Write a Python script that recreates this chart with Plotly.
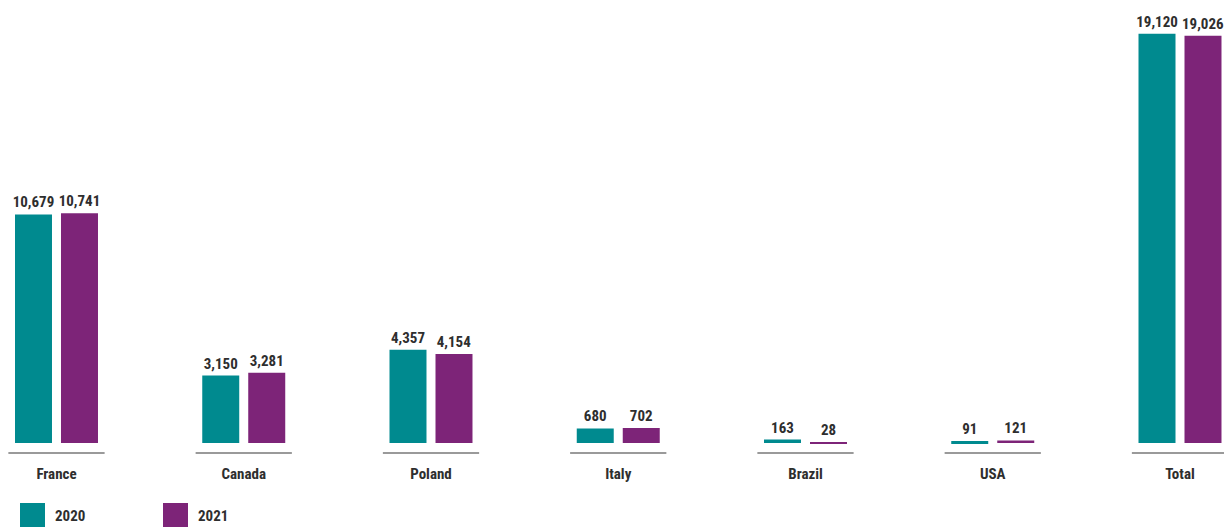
import plotly.graph_objects as go

categories = ["France", "Canada", "Poland", "Italy", "Brazil", "USA", "Total"]
values_2020 = [10679, 3150, 4357, 680, 163, 91, 19120]
values_2021 = [10741, 3281, 4154, 702, 28, 121, 19026]
series_names = ["2020", "2021"]

TEAL = "#008A8F"
PURPLE = "#7D2478"
TEXT = "#2E2E2E"
FONT = "Roboto Condensed, DejaVu Sans Condensed, Liberation Sans Narrow, Roboto, sans-serif"

W, H = 1224, 527
PLOT_H = 460

fig = go.Figure()
for name, vals, col in [(series_names[0], values_2020, TEAL), (series_names[1], values_2021, PURPLE)]:
    fig.add_trace(go.Bar(
        x=categories, y=vals, name=name, marker=dict(color=col, line=dict(width=0)),
        texttemplate="<b>%{y:,}</b>", textposition="outside", cliponaxis=False,
        constraintext="none",
        textfont=dict(family=FONT, size=15, color=TEXT),
        showlegend=False, hoverinfo="skip",
    ))

# baseline segments beneath each category group
for i in range(len(categories)):
    fig.add_shape(type="line", xref="x", yref="y", x0=i - 0.257, x1=i + 0.257,
                  y0=-470, y1=-470, line=dict(color="#9A9A9A", width=2))

# custom legend
for k, (name, col) in enumerate([(series_names[0], TEAL), (series_names[1], PURPLE)]):
    x0 = 20 + k * 143
    fig.add_shape(type="rect", xref="paper", yref="paper",
                  x0=x0 / W, x1=(x0 + 25) / W,
                  y0=(PLOT_H - 527) / PLOT_H, y1=(PLOT_H - 503) / PLOT_H,
                  line=dict(width=0), fillcolor=col)
    fig.add_annotation(xref="paper", yref="paper", x=(x0 + 33) / W, y=(PLOT_H - 516) / PLOT_H,
                       text="<b>" + name + "</b>", showarrow=False, xanchor="left", yanchor="middle",
                       font=dict(family=FONT, size=15, color=TEXT))

fig.update_layout(
    width=W, height=H,
    margin=dict(l=0, r=0, t=0, b=H - PLOT_H),
    paper_bgcolor="white", plot_bgcolor="white",
    barmode="group", bargap=0.5087, bargroupgap=0.1957,
    showlegend=False,
    xaxis=dict(range=[-0.3017, 6.235], showgrid=False, zeroline=False, showline=False,
               ticks="", ticklabelstandoff=3, tickfont=dict(family=FONT, size=15, color=TEXT)),
    yaxis=dict(range=[-794, 20701], visible=False, showgrid=False, zeroline=False),
)
fig.update_xaxes(tickvals=categories, ticktext=["<b>" + c + "</b>" for c in categories])

fig.write_html("out.html", config={"displayModeBar": False},
               post_script="document.body.style.margin='0';")
